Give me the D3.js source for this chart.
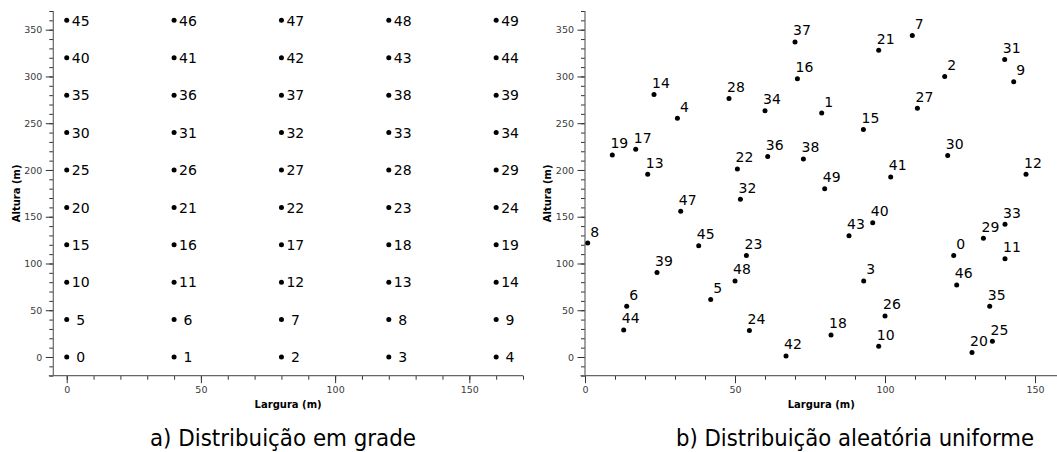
<!DOCTYPE html>
<html>
<head>
<meta charset="utf-8">
<script src="https://cdn.jsdelivr.net/npm/d3@7"></script>
<style>
  html, body { margin: 0; padding: 0; background: #fff; }
  svg { display: block; }
  .tick text { font-family: "DejaVu Sans", sans-serif; font-size: 9.5px; fill: #3a3a3a; }
  .lbl { font-family: "DejaVu Sans", sans-serif; font-size: 14px; fill: #000; white-space: pre; }
  .atitle { font-family: "DejaVu Sans", sans-serif; font-size: 10px; font-weight: bold; fill: #000; }
  .cap { font-family: "DejaVu Sans Condensed", "DejaVu Sans", sans-serif; font-stretch: condensed; font-size: 23.5px; fill: #000; }
</style>
</head>
<body>
<svg id="chart" width="1057" height="452"></svg>
<script>
// ---- Data ----
// Panel a: grid distribution
const gridXs = [0, 40, 80, 120, 160];
const gridYs = [0, 40, 80, 120, 160, 200, 240, 280, 320, 360];
// Panel b: uniform random distribution (index = node id)
const randX = [122.9, 78.9, 119.9, 92.9, 30.8, 41.9, 13.9, 109.1, 0.9, 142.9,
               97.9, 140.0, 147.0, 20.9, 23.0, 92.8, 70.8, 16.9, 82.0, 9.1,
               129.0, 97.9, 50.8, 53.8, 54.8, 135.8, 100.0, 110.8, 48.0, 132.8,
               120.9, 139.9, 51.8, 140.0, 60.0, 134.9, 60.9, 70.0, 72.8, 24.0,
               95.9, 101.9, 67.0, 88.0, 12.9, 37.9, 123.9, 31.9, 50.0, 79.9];
const randY = [108.6, 260.8, 300.0, 81.4, 255.4, 61.5, 54.3, 343.9, 121.8, 294.3,
               11.5, 105.0, 195.4, 195.4, 280.7, 243.2, 297.5, 222.2, 23.6, 216.1,
               4.7, 327.9, 201.1, 108.6, 28.3, 16.8, 43.9, 266.1, 276.4, 126.9,
               215.4, 318.2, 168.6, 141.9, 263.3, 54.3, 214.3, 336.9, 211.8, 90.4,
               143.6, 192.5, 1.1, 129.6, 28.9, 118.9, 77.1, 155.8, 81.4, 180.0];
const yMajorTicks = [0, 50, 100, 150, 200, 250, 300, 350];
const xMajorTicksA = [0, 50, 100, 150];
const xMajorTicksB = [0, 50, 100, 150];
const captions = ["a) Distribuição em grade", "b) Distribuição aleatória uniforme"];
const xTitle = "Largura (m)";
const yTitle = "Altura (m)";

const svg = d3.select("#chart");

const gridPts = [];
gridYs.forEach((y, r) => gridXs.forEach((x, c) => gridPts.push({id: r * gridXs.length + c, x, y})));
const randPts = randX.map((x, i) => ({id: i, x, y: randY[i]}));

function panel(cfg) {
  const g = svg.append("g");
  const x = d3.scaleLinear().domain(cfg.xDomain).range(cfg.xRange);
  const y = d3.scaleLinear().domain([-20, 370]).range([375.7, 11]);
  const x0 = cfg.xRange[0], yb = y.range()[0];

  // minor ticks
  const xMinor = d3.range(Math.ceil(cfg.xDomain[0] / 10) * 10, cfg.xDomain[1] + 0.01, 10);
  const yMinor = d3.range(-20, 371, 10);
  g.append("g").attr("transform", `translate(0,${yb})`)
    .call(d3.axisBottom(x).tickValues(xMinor).tickSize(4).tickFormat(""))
    .call(a => a.select(".domain").remove())
    .call(a => a.selectAll("line").attr("stroke", "#333"));
  g.append("g").attr("transform", `translate(${x0},0)`)
    .call(d3.axisLeft(y).tickValues(yMinor).tickSize(4).tickFormat(""))
    .call(a => a.select(".domain").remove())
    .call(a => a.selectAll("line").attr("stroke", "#333"));
  // major ticks
  g.append("g").attr("transform", `translate(0,${yb})`)
    .call(d3.axisBottom(x).tickValues(cfg.xMajor).tickSize(7.5).tickPadding(3).tickFormat(d3.format("d")))
    .call(a => a.select(".domain").remove())
    .call(a => a.selectAll("line").attr("stroke", "#333"))
    .call(a => a.selectAll("text").attr("fill", "#3a3a3a"));
  g.append("g").attr("transform", `translate(${x0},0)`)
    .call(d3.axisLeft(y).tickValues(yMajorTicks).tickSize(7.5).tickPadding(3.5).tickFormat(d3.format("d")))
    .call(a => a.select(".domain").remove())
    .call(a => a.selectAll("line").attr("stroke", "#333"))
    .call(a => a.selectAll("text").attr("fill", "#3a3a3a"));
  // axis lines
  g.append("line").attr("x1", x0 - 4.5).attr("x2", cfg.xRange[1]).attr("y1", yb).attr("y2", yb)
    .attr("stroke", "#666").attr("stroke-width", 1.2);
  g.append("line").attr("x1", x0).attr("x2", x0).attr("y1", y.range()[1]).attr("y2", yb)
    .attr("stroke", "#666").attr("stroke-width", 1.2);

  // titles
  const cx = (cfg.xRange[0] + cfg.xRange[1]) / 2;
  g.append("text").attr("class", "atitle").attr("x", cx).attr("y", 408)
    .attr("text-anchor", "middle").text(xTitle);
  g.append("text").attr("class", "atitle")
    .attr("transform", `translate(${cfg.yTitleX},${(y.range()[0] + y.range()[1]) / 2}) rotate(-90)`)
    .attr("text-anchor", "middle").text(yTitle);

  // points
  g.append("g").selectAll("circle").data(cfg.pts).join("circle")
    .attr("cx", d => x(d.x)).attr("cy", d => y(d.y)).attr("r", 2.5).attr("fill", "#000");
  g.append("g").selectAll("text").data(cfg.pts).join("text")
    .attr("class", "lbl")
    .attr("x", d => x(d.x) + cfg.ldx)
    .attr("y", d => y(d.y) + cfg.ldy)
    .attr("text-anchor", cfg.anchor)
    .text(cfg.fmt);

  // caption
  svg.append("text").attr("class", "cap").attr("x", cfg.capX).attr("y", 446)
    .attr("text-anchor", "middle")
    .attr("textLength", cfg.capW).attr("lengthAdjust", "spacingAndGlyphs")
    .text(cfg.caption);
}

panel({
  xDomain: [-5, 170], xRange: [53.3, 523], xMajor: xMajorTicksA,
  pts: gridPts, ldx: 5, ldy: 5.2, anchor: "start",
  fmt: d => (d.id < 10 ? " " : "") + d.id,
  yTitleX: 19.5, capX: 283, capW: 266, caption: captions[0]
});
panel({
  xDomain: [0, 157.5], xRange: [585, 1057.5], xMajor: xMajorTicksB,
  pts: randPts, ldx: 7, ldy: -6.5, anchor: "middle",
  fmt: d => String(d.id),
  yTitleX: 551, capX: 855, capW: 358, caption: captions[1]
});
</script>
</body>
</html>
